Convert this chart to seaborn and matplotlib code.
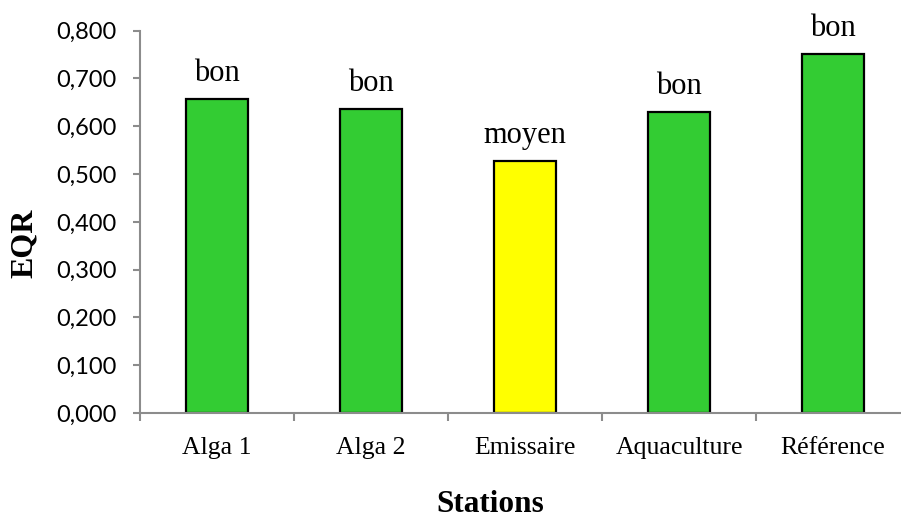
import matplotlib
matplotlib.use("Agg")
import matplotlib.pyplot as plt
import matplotlib.ticker as mticker
import seaborn as sns
import pandas as pd

stations = ["Alga 1", "Alga 2", "Emissaire", "Aquaculture", "Référence"]
eqr = [0.658, 0.636, 0.527, 0.630, 0.752]
status = ["bon", "bon", "moyen", "bon", "bon"]
status_colors = {"bon": "#33CC33", "moyen": "#FFFF00"}

df = pd.DataFrame({"Stations": stations, "EQR": eqr, "status": status})

sns.set_theme(style="white")
plt.rcParams["font.family"] = ["Liberation Serif", "DejaVu Serif"]
plt.rcParams.update({"text.color": "black", "axes.labelcolor": "black",
                     "xtick.color": "black", "ytick.color": "black"})

W, H = 901, 519
fig = plt.figure(figsize=(W / 100, H / 100), dpi=100)
left, right = 140, 910
bottom, top = 413, 30.7
ax = fig.add_axes([left / W, (H - bottom) / H, (right - left) / W, (bottom - top) / H])

palette = [status_colors[s] for s in status]
sns.barplot(data=df, x="Stations", y="EQR", hue="Stations", palette=palette,
            width=0.4, edgecolor="black", linewidth=1.6, legend=False, ax=ax,
            saturation=1)

ax.set_xlim(-0.5, len(stations) - 0.5)
ax.set_ylim(0, 0.8)

grey = "#8c8c8c"
for side in ["top", "right"]:
    ax.spines[side].set_visible(False)
for side in ["left", "bottom"]:
    ax.spines[side].set_color(grey)
    ax.spines[side].set_linewidth(1.5)

# y axis: comma decimals
ax.yaxis.set_major_locator(mticker.MultipleLocator(0.1))
ax.yaxis.set_major_formatter(mticker.FuncFormatter(lambda v, p: f"{v:.3f}".replace(".", ",")))
ax.tick_params(axis="y", which="major", direction="out", length=5, width=1.5,
               color=grey, labelcolor="black", pad=12, labelsize=17, left=True)
for lbl in ax.get_yticklabels():
    lbl.set_fontfamily(["Lato", "DejaVu Sans"])

# x axis: ticks between categories, labels centred under bars
n = len(stations)
ax.xaxis.set_major_locator(mticker.FixedLocator([i - 0.5 for i in range(n + 1)]))
ax.xaxis.set_major_formatter(mticker.NullFormatter())
ax.xaxis.set_minor_locator(mticker.FixedLocator(list(range(n))))
ax.xaxis.set_minor_formatter(mticker.FixedFormatter(stations))
ax.tick_params(axis="x", which="major", direction="out", length=6, width=1.5,
               color=grey, bottom=True)
ax.tick_params(axis="x", which="minor", length=0, pad=17, labelsize=18.5,
               labelcolor="black", bottom=True)

ax.set_xlabel("Stations", fontsize=22.5, fontweight="bold", labelpad=0)
ax.xaxis.set_label_coords((490 - left) / (right - left), -(505 - bottom) / (bottom - top))
ax.xaxis.label.set_va("center")
ax.set_ylabel("EQR", fontsize=23, fontweight="bold")
ax.yaxis.set_label_coords(-(left - 24) / (right - left), (bottom - 243) / (bottom - top))
ax.yaxis.label.set_va("center")

for i, (v, s) in enumerate(zip(eqr, status)):
    ax.annotate(s, xy=(i, v), xytext=(0, 13), textcoords="offset points",
                ha="center", va="baseline", fontsize=22, color="black")

fig.savefig("out.png", dpi=100, facecolor="white")
